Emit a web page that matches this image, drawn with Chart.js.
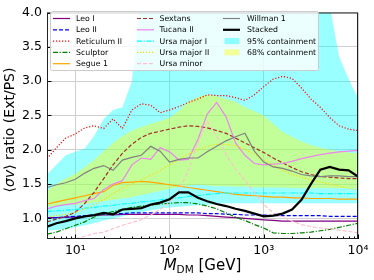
<!DOCTYPE html>
<html>
<head>
<meta charset="utf-8">
<script src="https://cdn.jsdelivr.net/npm/chart.js@4"></script>
<style>
  html, body { margin: 0; padding: 0; background: #fff; }
</style>
</head>
<body>
<canvas id="chart" width="374" height="280"></canvas>
<script>
// dark matter mass grid (GeV)
const massGeV = [5.0, 6.3, 7.9, 10, 12.6, 15.8, 20, 25.1, 31.6, 39.8, 50.1, 63.1, 79.4, 100, 126, 158, 200, 251, 316, 398,
  501, 631, 794, 1000, 1259, 1585, 1995, 2512, 3162, 3981, 5012, 6310, 7943, 10000];

// <sigma v> ratio Ext/PS per dwarf
const leoI = [1.01, 1.01, 1.02, 1.02, 1.03, 1.04, 1.05, 1.05, 1.06, 1.06, 1.06, 1.06, 1.06, 1.06, 1.06, 1.05, 1.05, 1.04, 1.03, 1.02,
  1.01, 1.00, 0.99, 0.98, 0.97, 0.96, 0.96, 0.96, 0.96, 0.96, 0.96, 0.96, 0.96, 0.96];
const leoII = [1.00, 1.01, 1.02, 1.03, 1.04, 1.05, 1.06, 1.07, 1.07, 1.08, 1.08, 1.08, 1.08, 1.08, 1.08, 1.08, 1.08, 1.07, 1.07, 1.06,
  1.06, 1.05, 1.05, 1.05, 1.04, 1.04, 1.04, 1.04, 1.04, 1.04, 1.03, 1.03, 1.03, 1.03];
const reticulumII = [1.87, 2.03, 2.17, 2.23, 2.32, 2.35, 2.31, 2.45, 2.31, 2.58, 2.67, 2.65, 2.54, 2.58, 2.63, 2.69, 2.74, 2.80, 2.79, 2.79,
  2.76, 2.72, 2.80, 2.92, 3.03, 3.07, 3.04, 2.90, 2.74, 2.62, 2.47, 2.35, 2.30, 2.28];
const sculptor = [0.77, 0.80, 0.85, 0.90, 0.95, 1.02, 1.07, 1.10, 1.13, 1.16, 1.18, 1.19, 1.21, 1.22, 1.23, 1.23, 1.21, 1.18, 1.14, 1.08,
  1.02, 0.97, 0.91, 0.86, 0.79, 0.78, 0.78, 0.79, 0.80, 0.82, 0.84, 0.87, 0.90, 0.93];
const segue1 = [1.21, 1.24, 1.27, 1.30, 1.33, 1.36, 1.39, 1.48, 1.52, 1.53, 1.54, 1.53, 1.51, 1.49, 1.47, 1.45, 1.43, 1.41, 1.39, 1.37,
  1.35, 1.34, 1.33, 1.32, 1.31, 1.31, 1.30, 1.30, 1.29, 1.29, 1.29, 1.28, 1.28, 1.28];
const sextans = [0.95, 0.99, 1.03, 1.09, 1.22, 1.38, 1.58, 1.78, 1.95, 2.08, 2.18, 2.24, 2.27, 2.30, 2.33, 2.35, 2.34, 2.32, 2.28, 2.24,
  2.17, 2.10, 2.03, 1.96, 1.88, 1.81, 1.74, 1.68, 1.64, 1.61, 1.60, 1.59, 1.58, 1.58];
const tucanaII = [1.14, 1.18, 1.20, 1.22, 1.26, 1.29, 1.42, 1.50, 1.55, 1.78, 1.88, 1.86, 2.03, 1.97, 1.85, 1.86, 2.15, 2.52, 2.69, 2.48,
  2.10, 1.92, 1.80, 1.78, 1.79, 1.80, 1.83, 1.87, 1.90, 1.93, 1.95, 1.97, 1.98, 1.99];
const ursaMajorI = [1.10, 1.11, 1.12, 1.13, 1.15, 1.16, 1.18, 1.19, 1.21, 1.22, 1.24, 1.25, 1.27, 1.29, 1.30, 1.32, 1.33, 1.35, 1.36, 1.37,
  1.37, 1.37, 1.37, 1.37, 1.37, 1.37, 1.37, 1.37, 1.37, 1.36, 1.36, 1.36, 1.36, 1.36];
const ursaMajorII = [1.02, 1.04, 1.06, 1.09, 1.14, 1.20, 1.28, 1.36, 1.44, 1.50, 1.56, 1.63, 1.70, 1.78, 1.86, 1.94, 2.00, 2.05, 2.08, 2.08,
  2.06, 2.00, 1.93, 1.85, 1.77, 1.70, 1.64, 1.60, 1.56, 1.53, 1.50, 1.47, 1.44, 1.41];
const ursaMinor = [0.58, 0.62, 0.66, 0.70, 0.74, 0.78, 0.80, 0.85, 0.90, 0.94, 0.98, 1.05, 1.13, 1.24, 1.40, 1.70, 2.10, 2.42, 2.20, 1.93,
  1.72, 1.55, 1.38, 1.20, 1.08, 1.02, 0.96, 0.91, 0.88, 0.86, 0.85, 0.83, 0.81, 0.79];
const willman1 = [1.45, 1.49, 1.52, 1.57, 1.66, 1.73, 1.77, 1.70, 1.85, 1.89, 1.92, 2.05, 1.98, 1.82, 1.86, 1.88, 1.88, 1.97, 2.05, 2.13,
  2.19, 2.24, 1.98, 1.82, 1.75, 1.73, 1.69, 1.64, 1.62, 1.61, 1.62, 1.62, 1.61, 1.61];
const stacked = [0.88, 0.93, 0.96, 1.00, 1.03, 1.05, 1.08, 1.06, 1.13, 1.14, 1.15, 1.20, 1.23, 1.28, 1.38, 1.38, 1.30, 1.25, 1.21, 1.18,
  1.14, 1.11, 1.07, 1.03, 1.04, 1.07, 1.13, 1.27, 1.50, 1.71, 1.75, 1.71, 1.70, 1.61];

// containment bands
const band95Upper = [1.64, 1.78, 1.92, 1.97, 2.02, 2.20, 2.45, 2.58, 2.62, 3.00, 4.30, 4.30, 4.30, 4.30, 4.30, 4.30, 4.30, 4.30, 4.30, 4.30,
  4.30, 4.30, 4.30, 4.30, 4.30, 4.30, 4.30, 4.30, 4.30, 4.30, 4.10, 3.35, 3.03, 2.75];
const band95Lower = [0.82, 0.83, 0.85, 0.87, 0.90, 0.93, 0.97, 1.00, 1.03, 1.06, 1.09, 1.12, 1.14, 1.16, 1.17, 1.18, 1.19, 1.20, 1.21, 1.22,
  1.22, 1.22, 1.22, 1.22, 1.22, 1.22, 1.22, 1.22, 1.22, 1.22, 1.22, 1.22, 1.22, 1.22];
const band68Upper = [1.40, 1.50, 1.58, 1.65, 1.75, 1.85, 1.98, 2.10, 2.20, 2.28, 2.33, 2.38, 2.42, 2.47, 2.57, 2.70, 2.77, 2.80, 2.78, 2.74,
  2.70, 2.62, 2.56, 2.50, 2.38, 2.26, 2.19, 2.12, 2.07, 2.03, 2.00, 1.98, 1.96, 1.95];
const band68Lower = [1.17, 1.18, 1.19, 1.20, 1.21, 1.23, 1.25, 1.27, 1.29, 1.31, 1.34, 1.37, 1.40, 1.43, 1.46, 1.48, 1.49, 1.48, 1.47, 1.47,
  1.46, 1.46, 1.45, 1.45, 1.45, 1.45, 1.44, 1.44, 1.44, 1.44, 1.44, 1.44, 1.44, 1.44];

// ticks
const yTicks = [1.0, 1.5, 2.0, 2.5, 3.0, 3.5, 4.0];
const xMajorTicks = [10, 100, 1000, 10000];
const xMinorTicks = [5, 6, 7, 8, 9, 20, 30, 40, 50, 60, 70, 80, 90, 200, 300, 400, 500, 600, 700, 800, 900,
  2000, 3000, 4000, 5000, 6000, 7000, 8000, 9000];
const superscripts = {10: '10¹', 100: '10²', 1000: '10³', 10000: '10⁴'};

const DASHED = [4, 2];
const DOTTED = [1.2, 1.8];
const DASHDOT = [5, 1.6, 1.2, 1.6];

const lines = [
  {label: 'Leo I', data: leoI, color: '#800080', dash: []},
  {label: 'Leo II', data: leoII, color: '#0000ff', dash: DASHED},
  {label: 'Reticulum II', data: reticulumII, color: '#ff0000', dash: DOTTED},
  {label: 'Sculptor', data: sculptor, color: '#008000', dash: DASHDOT},
  {label: 'Segue 1', data: segue1, color: '#ffa500', dash: []},
  {label: 'Sextans', data: sextans, color: '#a52a2a', dash: DASHED},
  {label: 'Tucana II', data: tucanaII, color: '#ee82ee', dash: []},
  {label: 'Ursa major I', data: ursaMajorI, color: '#00ffff', dash: DASHDOT},
  {label: 'Ursa major II', data: ursaMajorII, color: '#ffd700', dash: DOTTED},
  {label: 'Ursa minor', data: ursaMinor, color: '#ffc0cb', dash: DASHED},
  {label: 'Willman 1', data: willman1, color: '#808080', dash: []},
  {label: 'Stacked', data: stacked, color: '#000000', dash: [], width: 2.2}
];
const bands = [
  {label: '95% containment', color: 'rgba(0,255,255,0.4)'},
  {label: '68% containment', color: 'rgba(255,255,0,0.4)'}
];

const toPoints = arr => massGeV.map((m, i) => ({x: m, y: arr[i]}));
const FONT = 'DejaVu Sans';

const datasets = [
  {data: toPoints(band95Upper), fill: '+1', backgroundColor: bands[0].color, borderWidth: 0, borderColor: 'transparent', order: 100},
  {data: toPoints(band95Lower), fill: false, borderWidth: 0, borderColor: 'transparent', order: 100},
  {data: toPoints(band68Upper), fill: '+1', backgroundColor: bands[1].color, borderWidth: 0, borderColor: 'transparent', order: 99},
  {data: toPoints(band68Lower), fill: false, borderWidth: 0, borderColor: 'transparent', order: 99}
];
lines.forEach((l, i) => {
  datasets.push({
    label: l.label,
    data: toPoints(l.data),
    borderColor: l.color,
    borderWidth: l.width || 1.2,
    borderDash: l.dash,
    fill: false,
    order: lines.length - i
  });
});

const frame = {
  id: 'frame',
  afterDraw(chart) {
    const {ctx, chartArea: a, scales: {x, y}} = chart;
    ctx.save();

    // inward ticks
    ctx.strokeStyle = '#000';
    ctx.lineWidth = 1;
    ctx.setLineDash([]);
    ctx.beginPath();
    for (const v of xMinorTicks) {
      const px = Math.round(x.getPixelForValue(v)) + 0.5;
      ctx.moveTo(px, a.bottom); ctx.lineTo(px, a.bottom - 2.5);
    }
    for (const v of xMajorTicks) {
      const px = Math.round(x.getPixelForValue(v)) + 0.5;
      ctx.moveTo(px, a.bottom); ctx.lineTo(px, a.bottom - 4.5);
    }
    for (const v of yTicks) {
      const py = Math.round(y.getPixelForValue(v)) + 0.5;
      ctx.moveTo(a.left, py); ctx.lineTo(a.left + 4.5, py);
    }
    ctx.stroke();

    // spines
    ctx.strokeStyle = '#222';
    ctx.strokeRect(a.left + 0.5, a.top + 0.5, a.width - 1, a.height - 1);

    // legend
    ctx.beginPath();
    ctx.roundRect(50.5, 11.5, 268, 59, 2);
    ctx.fillStyle = 'rgba(255,255,255,0.8)';
    ctx.fill();
    ctx.strokeStyle = '#cccccc';
    ctx.stroke();

    const cols = [{lineX: 53, textX: 76}, {lineX: 137, textX: 159.5}, {lineX: 223, textX: 247}];
    const rowY = [18.5, 29.8, 41.1, 52.4, 63.7];
    const entries = lines.map(l => ({type: 'line', ...l})).concat(bands.map(b => ({type: 'patch', ...b})));
    ctx.font = '7.8px "' + FONT + '"';
    ctx.textBaseline = 'middle';
    ctx.textAlign = 'left';
    entries.forEach((e, i) => {
      const c = cols[Math.floor(i / 5)];
      const ry = rowY[i % 5];
      if (e.type === 'line') {
        ctx.strokeStyle = e.color;
        ctx.lineWidth = e.width || 1.2;
        ctx.setLineDash(e.dash);
        ctx.beginPath();
        ctx.moveTo(c.lineX, ry); ctx.lineTo(c.lineX + 17, ry);
        ctx.stroke();
        ctx.setLineDash([]);
      } else {
        ctx.fillStyle = e.color;
        ctx.fillRect(c.lineX + 1.5, ry - 3, 15, 6);
      }
      ctx.fillStyle = '#000';
      ctx.fillText(e.label, c.textX, ry + 0.5);
    });

    // y title: <sigma v> ratio (Ext/PS)
    ctx.save();
    ctx.translate(10.5, 130);
    ctx.rotate(-Math.PI / 2);
    const yParts = [['⟨', ''], ['σv', 'italic '], ['⟩ ratio (Ext/PS)', '']];
    let total = 0;
    yParts.forEach(p => { ctx.font = p[1] + '14px "' + FONT + '"'; total += ctx.measureText(p[0]).width; });
    let cx = -total / 2;
    ctx.fillStyle = '#000';
    ctx.textBaseline = 'middle';
    yParts.forEach(p => {
      ctx.font = p[1] + '14px "' + FONT + '"';
      ctx.fillText(p[0], cx, 0);
      cx += ctx.measureText(p[0]).width;
    });
    ctx.restore();

    // x title: M_DM [GeV]
    const xParts = [['M', 'italic 15px', 0], ['DM', '10.5px', 3], [' [GeV]', '15px', 0]];
    total = 0;
    xParts.forEach(p => { ctx.font = p[1] + ' "' + FONT + '"'; total += ctx.measureText(p[0]).width; });
    cx = (a.left + a.right) / 2 - total / 2;
    ctx.textBaseline = 'alphabetic';
    ctx.fillStyle = '#000';
    xParts.forEach(p => {
      ctx.font = p[1] + ' "' + FONT + '"';
      ctx.fillText(p[0], cx, 270 + p[2]);
      cx += ctx.measureText(p[0]).width;
    });

    ctx.restore();
  }
};

new Chart(document.getElementById('chart'), {
  type: 'line',
  data: {datasets},
  options: {
    responsive: false,
    animation: false,
    devicePixelRatio: 1,
    layout: {padding: {left: 0, right: 16, top: 8, bottom: 0}},
    elements: {point: {radius: 0}, line: {tension: 0}},
    plugins: {legend: {display: false}, tooltip: {enabled: false}},
    scales: {
      x: {
        type: 'logarithmic',
        min: 5,
        max: 10000,
        afterBuildTicks: axis => {
          axis.ticks = xMinorTicks.concat(xMajorTicks).sort((a, b) => a - b).map(v => ({value: v}));
        },
        afterFit: axis => { axis.height = 41; },
        border: {display: false},
        grid: {
          drawTicks: false,
          color: c => (c.tick && xMajorTicks.includes(c.tick.value)) ? '#cfcfcf' : 'rgba(0,0,0,0)',
          lineWidth: 1
        },
        ticks: {
          autoSkip: false,
          maxRotation: 0,
          padding: 4,
          color: '#000',
          font: {family: FONT, size: 12.5},
          callback: v => superscripts[v] || ''
        }
      },
      y: {
        min: 0.7,
        max: 4.0,
        afterBuildTicks: axis => { axis.ticks = yTicks.map(v => ({value: v})); },
        afterFit: axis => { axis.width = 47; },
        border: {display: false},
        grid: {drawTicks: false, color: '#cfcfcf', lineWidth: 1},
        ticks: {
          padding: 5,
          color: '#000',
          font: {family: FONT, size: 12.5},
          callback: v => Number(v).toFixed(1)
        }
      }
    }
  },
  plugins: [frame]
});
</script>
</body>
</html>
